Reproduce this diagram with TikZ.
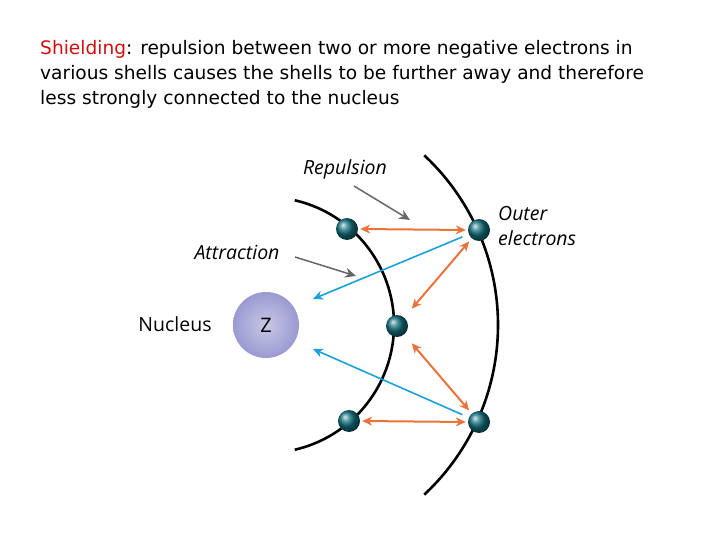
\documentclass[tikz,border=0pt]{standalone}
\usepackage{fontspec}
\setmainfont{DejaVu Sans}
\newfontfamily\lblfont{Open Sans}
\usetikzlibrary{calc,arrows.meta}
\definecolor{orng}{HTML}{E8743B}
\definecolor{blu}{HTML}{1BA1D8}
\definecolor{teal1}{HTML}{14707F}
\definecolor{nuc}{HTML}{9A9AD2}
\definecolor{redt}{HTML}{D01010}
\begin{document}
\begin{tikzpicture}[x=1pt,y=-1pt,
  electron/.style={circle,minimum size=22pt,inner sep=0pt,ball color=teal1},
  shell/.style={line width=2.6pt,black},
  rep/.style={orng,line width=2pt,{Stealth[length=10pt,width=9pt]}-{Stealth[length=10pt,width=9pt]}},
  att/.style={blu,line width=1.6pt,-{Stealth[length=10pt,width=9pt]}},
  ptr/.style={gray!80!black,line width=1.5pt,-{Stealth[length=11pt,width=10pt]}},
  lbl/.style={font=\lblfont\itshape\fontsize{19.5}{24}\selectfont,align=left,inner sep=0pt}]
\useasboundingbox (0,0) rectangle (720,540);
\node[anchor=north west,align=left,inner sep=0pt,font=\fontsize{18.6}{25}\selectfont] (title) at (40,40)
 {\textcolor{redt}{Shielding}: repulsion between two or more negative electrons in\\
  various shells causes the shells to be further away and therefore\\
  less strongly connected to the nucleus};
\coordinate (C) at (266,325);
\draw[shell] ($(C)+(-77:128)$) arc[start angle=-77,end angle=77,radius=128];
\draw[shell] ($(C)+(-47:232)$) arc[start angle=-47,end angle=47,radius=232];
\node[circle,minimum size=66pt,inner sep=0pt,shading=radial,inner color=nuc!55,outer color=nuc,font=\lblfont\fontsize{20}{24}\selectfont] (N) at (C) {Z};
\node[electron] (i1) at (347,229) {};
\node[electron] (i2) at (397,326) {};
\node[electron] (i3) at (349,421) {};
\node[electron] (o1) at (479,230) {};
\node[electron] (o2) at (479,422) {};
\draw[rep] ($(i1.east)+(2,0)$) -- ($(o1.west)+(-2,0)$);
\draw[rep] ($(i3.east)+(2,0)$) -- ($(o2.west)+(-2,0)$);
\draw[rep] ($(i2)!0.18!(o1)$) -- ($(i2)!0.88!(o1)$);
\draw[rep] ($(i2)!0.18!(o2)$) -- ($(i2)!0.88!(o2)$);
\coordinate (b1) at (313,299);
\coordinate (b2) at (313,349);
\draw[att] ($(o1)!0.1!(b1)$) -- (b1);
\draw[att] ($(o2)!0.1!(b2)$) -- (b2);
\node[lbl] (rl) at (345,169) {Repulsion};
\node[lbl] (al) at (237,252) {Attraction};
\node[lbl,anchor=west,font=\lblfont\itshape\fontsize{19.5}{25}\selectfont] (ol) at (498,226) {Outer\\electrons};
\node[lbl,font=\lblfont\fontsize{19.5}{24}\selectfont] (nl) at (175,324) {Nucleus};
\coordinate (r2) at (410,220);
\coordinate (a2) at (356,276);
\draw[ptr] (354,186) -- (r2);
\draw[ptr] (295,257) -- (a2);
\end{tikzpicture}
\end{document}
